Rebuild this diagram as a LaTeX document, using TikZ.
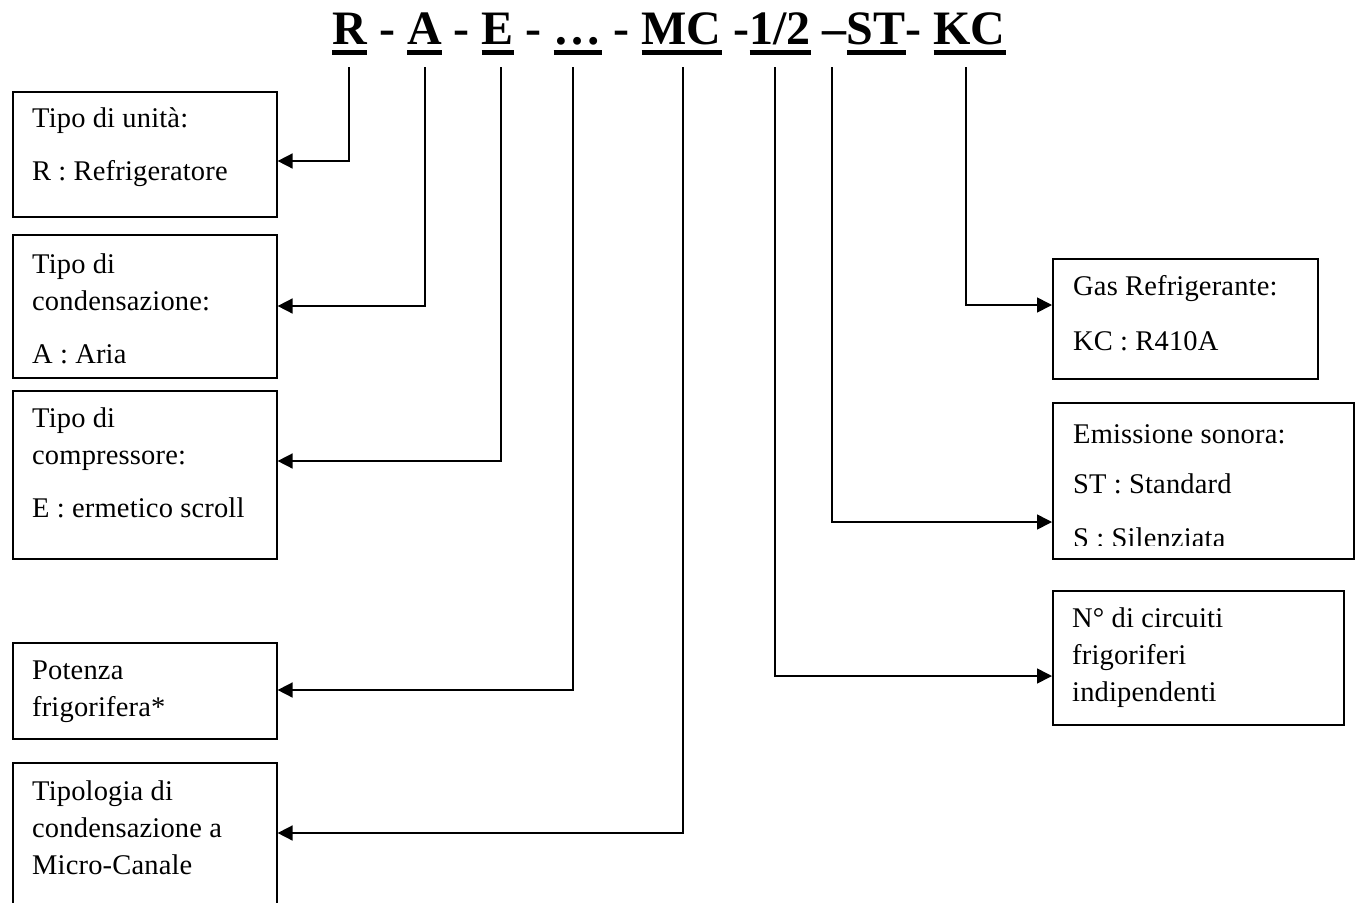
\documentclass[tikz,border=0pt]{standalone}
\usepackage{fontspec}
\setmainfont{Liberation Serif}
\newfontfamily\boxfamily[LetterSpace=0.6]{Liberation Serif}
\usetikzlibrary{arrows.meta}

% underlined part of the model code
\newcommand\ulpart[1]{\setbox0\hbox{#1}\rlap{\rule[-11pt]{\wd0}{5pt}}\box0\relax}
% strut fixing the height of the first text line in a box
\newcommand\fl{\rule{0pt}{22pt}}

\tikzset{
  box/.style={draw, line width=1.6pt, inner sep=0pt, anchor=north west},
  txt/.style={anchor=north west, inner sep=0pt, align=left,
              font=\boxfamily\fontsize{28.5}{37}\selectfont},
  conn/.style={line width=1.6pt, -{Triangle[length=15pt,width=15pt]}},
}

\begin{document}
\begin{tikzpicture}[x=1pt,y=-1pt]
\useasboundingbox (0,0) rectangle (1359,902);
\clip (0,0) rectangle (1359,902);

% model code
\node[anchor=base, inner sep=0pt, font=\bfseries\fontsize{48}{50}\selectfont] (code) at (669,44)
  {\ulpart{R} - \ulpart{A} - \ulpart{E} - \ulpart{…} - \ulpart{MC} -\ulpart{1/2} –\ulpart{ST}- \ulpart{KC}};

% tops of the leader lines under each code part
\coordinate (cR)  at (349,67);
\coordinate (cA)  at (425,67);
\coordinate (cE)  at (501,67);
\coordinate (cP)  at (573,67);
\coordinate (cMC) at (683,67);
\coordinate (cN)  at (775,67);
\coordinate (cST) at (832,67);
\coordinate (cKC) at (966,67);

% left column
\node[box, minimum width=264pt, minimum height=125pt] (unit) at (12,91) {};
\node[txt] (unitT) at (32,105) {\fl Tipo di unità:\\[16pt] R : Refrigeratore};

\node[box, minimum width=264pt, minimum height=143pt] (cond) at (12,234) {};
\node[txt] (condT) at (32,251) {\fl Tipo di\\ condensazione:\\[16pt] A : Aria};

\node[box, minimum width=264pt, minimum height=168pt] (comp) at (12,390) {};
\node[txt] (compT) at (32,405) {\fl Tipo di\\ compressore:\\[16pt] E : ermetico scroll};

\node[box, minimum width=264pt, minimum height=96pt] (pow) at (12,642) {};
\node[txt] (powT) at (32,657) {\fl Potenza\\ frigorifera*};

\node[box, minimum width=264pt, minimum height=170pt] (mc) at (12,762) {};
\node[txt] (mcT) at (32,778) {\fl Tipologia di\\ condensazione a\\ Micro-Canale};

% right column
\node[box, minimum width=265pt, minimum height=120pt] (gas) at (1052,258) {};
\node[txt] (gasT) at (1073,273) {\fl Gas Refrigerante:\\[18pt] KC : R410A};

\node[box, minimum width=301pt, minimum height=156pt] (snd) at (1052,402) {};
\begin{scope}
  \clip (1052,402) rectangle (1353,545);
  \node[txt] (sndT) at (1073,421) {\fl Emissione sonora:\\[13pt] ST : Standard\\[17pt] S : Silenziata};
\end{scope}

\node[box, minimum width=291pt, minimum height=134pt] (circ) at (1052,590) {};
\node[txt] (circT) at (1072,605) {\fl N° di circuiti\\ frigoriferi\\ indipendenti};

% leader lines
\draw[conn] (cR)  |- (unit.east |- 0,161);
\draw[conn] (cA)  |- (cond.east |- 0,306);
\draw[conn] (cE)  |- (comp.east |- 0,461);
\draw[conn] (cP)  |- (pow.east  |- 0,690);
\draw[conn] (cMC) |- (mc.east   |- 0,833);
\draw[conn] (cKC) |- (gas.west  |- 0,305);
\draw[conn] (cST) |- (snd.west  |- 0,522);
\draw[conn] (cN)  |- (circ.west |- 0,676);
\end{tikzpicture}
\end{document}
